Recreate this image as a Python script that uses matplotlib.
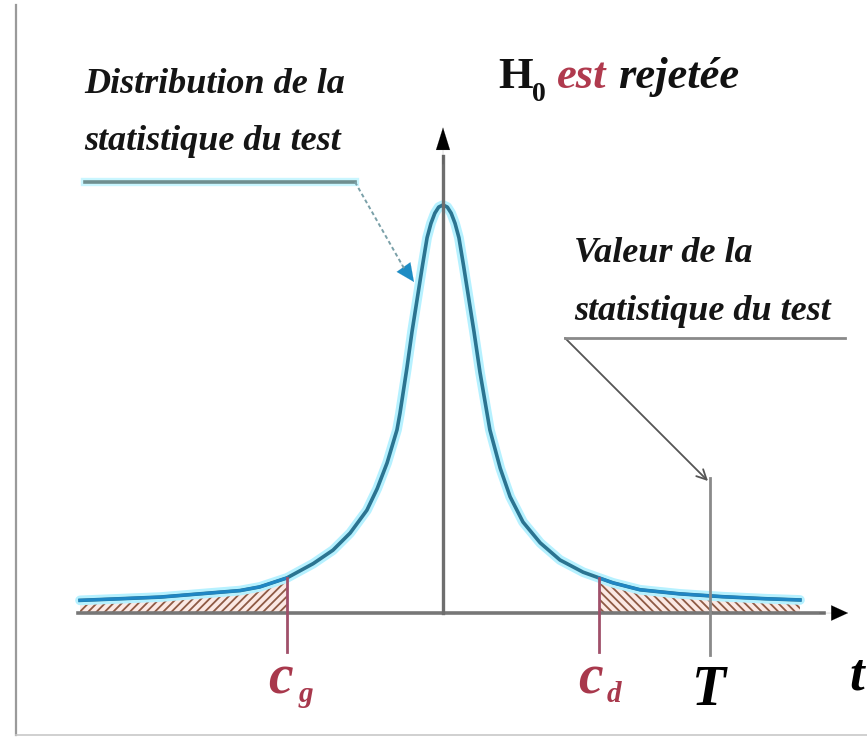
import numpy as np
import matplotlib
matplotlib.use("Agg")
import matplotlib.pyplot as plt
from matplotlib.lines import Line2D

# ---- data -------------------------------------------------------------
# density of the test statistic (peak normalised to 1)
t_vals = np.array([-8.44, -7.5, -6.58, -5.42, -4.72, -4.26, -3.63, -3.02,
                   -2.56, -2.16, -1.77, -1.53, -1.30, -1.07, -1.0, -0.84,
                   -0.72, -0.60, -0.48, -0.37, -0.28, -0.19, -0.1, 0.0,
                   0.1, 0.19, 0.28, 0.37, 0.48, 0.60, 0.72, 0.86, 1.09, 1.33,
                   1.56, 1.86, 2.26, 2.72, 3.26, 3.63, 3.95, 4.58, 5.5, 6.5,
                   7.5, 8.30])
dens_vals = np.array([0.031, 0.035, 0.039, 0.049, 0.055, 0.064, 0.086, 0.121,
                      0.154, 0.196, 0.252, 0.305, 0.368, 0.449, 0.49, 0.60,
                      0.69, 0.77, 0.85, 0.92, 0.955, 0.98, 0.995, 1.0,
                      0.995, 0.98, 0.955, 0.92, 0.85, 0.77, 0.69, 0.59, 0.449,
                      0.355, 0.285, 0.223, 0.172, 0.130, 0.100, 0.086, 0.074,
                      0.057, 0.047, 0.040, 0.035, 0.032])

c_g = -3.63          # left critical value
c_d = 3.63           # right critical value
T_obs = 6.2          # observed value of the statistic

title_parts = ["H", "0", "est", "rejetée"]
label_dist = ["Distribution de la", "statistique du test"]
label_val = ["Valeur de la", "statistique du test"]

# ---- figure -----------------------------------------------------------
W, H = 867, 739
fig = plt.figure(figsize=(W / 100, H / 100), dpi=100)
ax = fig.add_axes([0, 0, 1, 1])
ax.set_xlim(-10.302, 9.860)
ax.set_ylim(-0.3088, 1.5025)
ax.axis("off")

serif = "Liberation Serif"
red_txt = "#a8384c"
crit_col = "#a0506a"


def px(x, y):
    """image pixel (origin top-left) -> figure pixels (origin bottom-left)"""
    return (x, H - y)


# frame on the left / bottom edge
fig.add_artist(Line2D([16 / W, 16 / W], [4 / H, 1 - 5 / H], color="#9a9a9a",
                      lw=1.6, transform=fig.transFigure))
fig.add_artist(Line2D([16 / W, 1], [4 / H, 4 / H], color="#c8c8c8",
                      lw=1.2, transform=fig.transFigure))

# tails (rejection zones)
left = t_vals <= c_g
right = t_vals >= c_d
plt.rcParams["hatch.linewidth"] = 1.3
ax.fill_between(t_vals[left], 0, dens_vals[left], facecolor="#fbe9e4",
                edgecolor="#8e5a44", hatch="////", linewidth=0, zorder=2)
ax.fill_between(t_vals[right], 0, dens_vals[right], facecolor="#fbe9e4",
                edgecolor="#8e5a44", hatch="\\\\\\\\", linewidth=0, zorder=2)

# density curve with a light halo
ax.plot(t_vals, dens_vals, color="#b6f1ff", lw=7, solid_capstyle="round",
        solid_joinstyle="round", zorder=3)
ax.plot(t_vals, dens_vals, color="#2b7491", lw=2.6, solid_joinstyle="round",
        zorder=4)
ax.plot(t_vals[left], dens_vals[left], color="#1f86c4", lw=2.2, zorder=4)
ax.plot(t_vals[right], dens_vals[right], color="#1f86c4", lw=2.2, zorder=4)

# axes of the diagram
ax.plot([-8.49, 8.85], [0, 0], color="#777777", lw=2.6, zorder=5)
ax.annotate("", xy=(9.42, 0), xytext=(8.75, 0),
            arrowprops=dict(arrowstyle="-|>,head_length=1.2,head_width=0.55",
                            color="black", lw=0.1, shrinkA=0, shrinkB=0),
            zorder=6)
ax.plot([0, 0], [0, 1.12], color="#6e6e6e", lw=2.4, zorder=5)
ax.annotate("", xy=(0, 1.19), xytext=(0, 1.10),
            arrowprops=dict(arrowstyle="-|>,head_length=1.6,head_width=0.5",
                            color="black", lw=0.1, shrinkA=0, shrinkB=0),
            zorder=6)

# critical values and observed statistic
ax.plot([c_g, c_g], [-0.096, dens_vals[t_vals == c_g][0]], color=crit_col,
        lw=2, zorder=5)
ax.plot([c_d, c_d], [-0.096, dens_vals[t_vals == c_d][0]], color=crit_col,
        lw=2, zorder=5)
ax.plot([T_obs, T_obs], [-0.103, 0.331], color="#8a8a8a", lw=2, zorder=5)

lab_kw = dict(family=serif, style="italic", weight="bold",
              xycoords="figure pixels", va="baseline")
ax.annotate("c", px(268, 694), fontsize=40, color=red_txt, ha="left", **lab_kw)
ax.annotate("g", px(299, 702), fontsize=21, color=red_txt, ha="left", **lab_kw)
ax.annotate("c", px(578, 694), fontsize=40, color=red_txt, ha="left", **lab_kw)
ax.annotate("d", px(607, 702), fontsize=21, color=red_txt, ha="left", **lab_kw)
ax.annotate("T", px(709, 705), fontsize=40, color="black", ha="center",
            **lab_kw)
ax.annotate("t", px(857, 689), fontsize=38, color="black", ha="center",
            **lab_kw)

# title
ax.annotate(title_parts[0], px(498, 88), fontsize=32, color="#111111",
            family=serif, weight="bold", xycoords="figure pixels",
            va="baseline")
ax.annotate(title_parts[1], px(532, 101), fontsize=20, color="#111111",
            family=serif, weight="bold", xycoords="figure pixels",
            va="baseline")
ax.annotate(title_parts[2], px(557, 88), fontsize=32, color="#b03a4e",
            ha="left", **lab_kw)
ax.annotate(title_parts[3], px(618, 88), fontsize=32, color="#111111",
            ha="left", **lab_kw)

# label of the distribution
for line, yb in zip(label_dist, (93, 150)):
    ax.annotate(line, px(84, yb), fontsize=26, color="#151515", ha="left",
                **lab_kw)
fig.add_artist(Line2D([85 / W, 355 / W], [1 - 182 / H] * 2, color="#c9f6ff",
                      lw=6, transform=fig.transFigure))
fig.add_artist(Line2D([85 / W, 355 / W], [1 - 182 / H] * 2, color="#6f8f90",
                      lw=2.6, transform=fig.transFigure))
fig.add_artist(Line2D([355 / W, 405 / W], [1 - 182 / H, 1 - 270 / H],
                      color="#7aa0a8", lw=1.4, ls=(0, (2, 1.5)),
                      transform=fig.transFigure))
ax.annotate("", xy=px(414, 282), xytext=px(400, 262),
            xycoords="figure pixels", textcoords="figure pixels",
            arrowprops=dict(arrowstyle="-|>,head_length=1.3,head_width=0.6",
                            color="#1d8cc4", lw=0.1, shrinkA=0, shrinkB=0))

# label of the observed value
for line, yb in zip(label_val, (262, 320)):
    ax.annotate(line, px(574, yb), fontsize=26, color="#151515", ha="left",
                **lab_kw)
fig.add_artist(Line2D([565 / W, 845 / W], [1 - 338 / H] * 2, color="#8a8a8a",
                      lw=2, transform=fig.transFigure))
ax.annotate("", xy=px(708, 481), xytext=px(565, 338),
            xycoords="figure pixels", textcoords="figure pixels",
            arrowprops=dict(arrowstyle="->,head_length=0.7,head_width=0.35",
                            color="#555555", lw=1.3, shrinkA=0, shrinkB=0))

fig.savefig("out.png", dpi=100, facecolor="white")
